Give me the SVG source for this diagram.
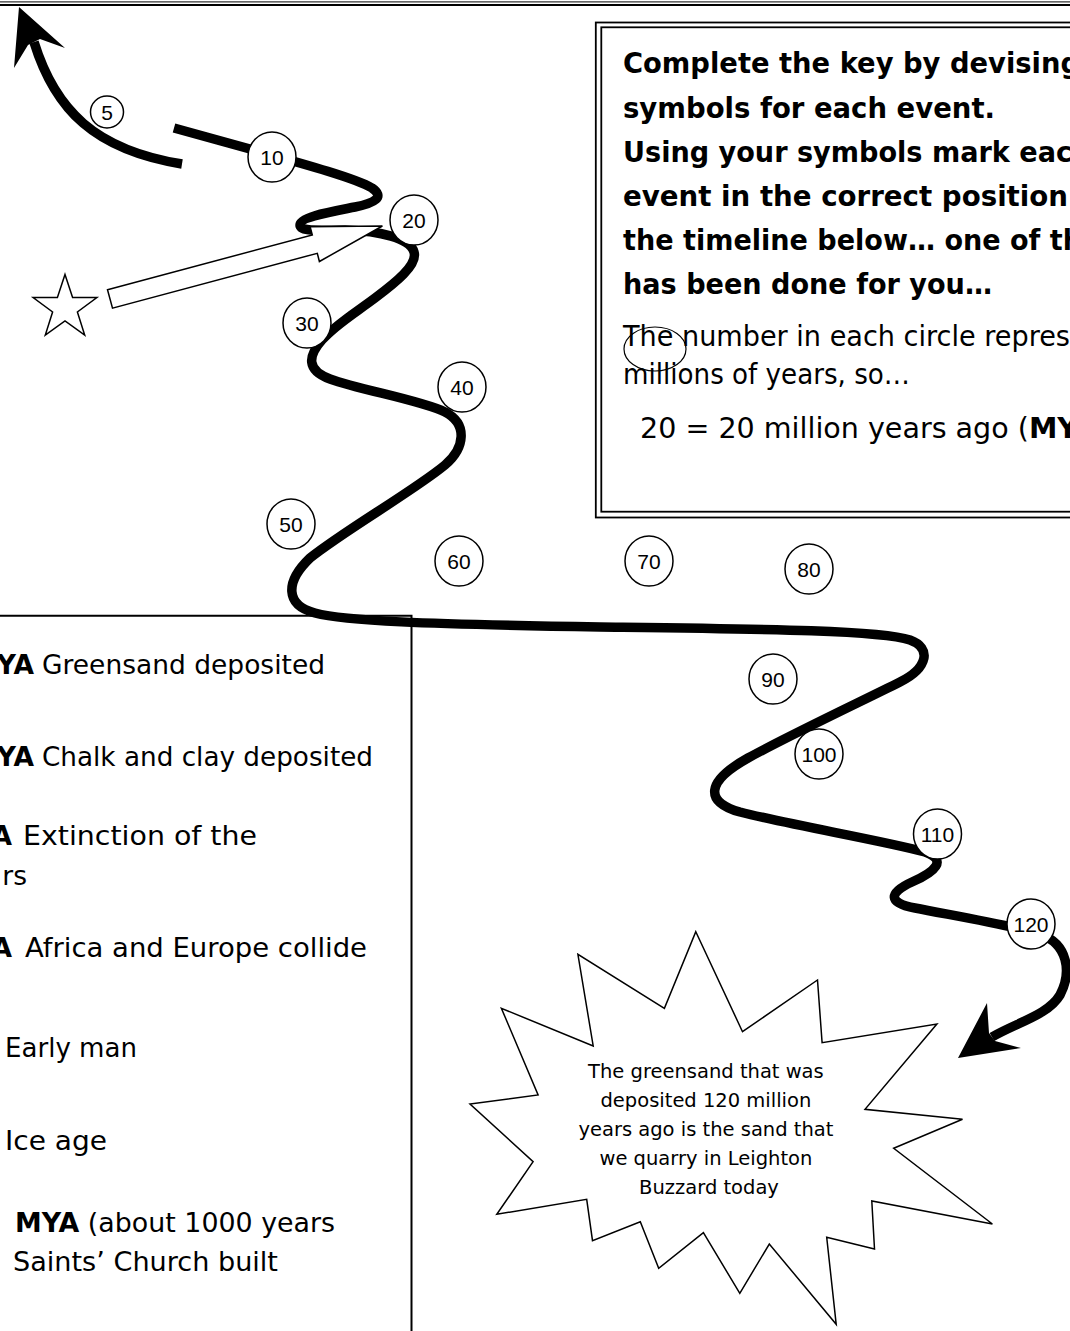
<svg xmlns="http://www.w3.org/2000/svg" width="1070" height="1331" viewBox="0 0 1070 1331">
<style>
.t{font-family:"DejaVu Sans","Noto Sans",sans-serif;fill:#000}
.b{font-weight:bold}
.num{font-family:"Liberation Sans",Arial,sans-serif;font-size:21px;text-anchor:middle;fill:#000}
.circ{fill:#fff;stroke:#000;stroke-width:1.5}
.line{fill:none;stroke:#000;stroke-width:9.5;stroke-linecap:butt;stroke-linejoin:round}
.outline{fill:#fff;stroke:#000;stroke-width:1.5;stroke-linejoin:miter}
</style>
<rect x="0" y="0" width="1070" height="1331" fill="#fff"/>
<g id="page-border">
<line x1="0" y1="1.8" x2="1070" y2="1.8" stroke="#333" stroke-width="1.2"/>
<line x1="0" y1="5" x2="1070" y2="5" stroke="#000" stroke-width="2.2"/>
</g>
<g id="instruction-box">
<rect x="595.8" y="22.5" width="500" height="495" fill="none" stroke="#000" stroke-width="1.8"/>
<rect x="601.3" y="27.3" width="500" height="484.4" fill="none" stroke="#000" stroke-width="1.8"/>
<text class="t b" x="623" y="73" font-size="28.5" textLength="457" lengthAdjust="spacingAndGlyphs">Complete the key by devising</text>
<text class="t b" x="623" y="118" font-size="28.5" textLength="372" lengthAdjust="spacingAndGlyphs">symbols for each event.</text>
<text class="t b" x="623" y="162" font-size="28.5" textLength="449" lengthAdjust="spacingAndGlyphs">Using your symbols mark eac</text>
<text class="t b" x="623" y="206" font-size="28.5" textLength="445" lengthAdjust="spacingAndGlyphs">event in the correct position</text>
<text class="t b" x="623" y="250" font-size="28.5" textLength="459" lengthAdjust="spacingAndGlyphs">the timeline below… one of th</text>
<text class="t b" x="623" y="294" font-size="28.5" textLength="369" lengthAdjust="spacingAndGlyphs">has been done for you…</text>
<text class="t" x="623" y="346" font-size="27.5" textLength="447" lengthAdjust="spacingAndGlyphs">The number in each circle repres</text>
<text class="t" x="623" y="384" font-size="27.5" textLength="287" lengthAdjust="spacingAndGlyphs">millions of years, so…</text>
<text class="t" x="640" y="438" font-size="27.5" textLength="438" lengthAdjust="spacingAndGlyphs">20  = 20 million years ago (<tspan class="b">MY</tspan></text>
<ellipse cx="655" cy="349" rx="31" ry="22" fill="none" stroke="#000" stroke-width="1.2"/>
</g>
<g id="key-box">
<path d="M0 615.8 H411.5 V1331" fill="none" stroke="#000" stroke-width="2"/>
<text class="t b" x="34" y="674" font-size="26.5" text-anchor="end">YA</text>
<text class="t" x="42" y="674" font-size="26.5" textLength="283" lengthAdjust="spacingAndGlyphs">Greensand deposited</text>
<text class="t b" x="34" y="766" font-size="26.5" text-anchor="end">YA</text>
<text class="t" x="42" y="766" font-size="26.5" textLength="331" lengthAdjust="spacingAndGlyphs">Chalk and clay deposited</text>
<text class="t b" x="12" y="845" font-size="26.5" text-anchor="end">A</text>
<text class="t" x="23" y="845" font-size="26.5" textLength="234" lengthAdjust="spacingAndGlyphs">Extinction of the</text>
<text class="t" x="27" y="885" font-size="26.5" text-anchor="end">rs</text>
<text class="t b" x="12" y="957" font-size="26.5" text-anchor="end">A</text>
<text class="t" x="25" y="957" font-size="26.5" textLength="342" lengthAdjust="spacingAndGlyphs">Africa and Europe collide</text>
<text class="t" x="5" y="1057" font-size="26.5" textLength="132" lengthAdjust="spacingAndGlyphs">Early man</text>
<text class="t" x="5" y="1150" font-size="26.5" textLength="102" lengthAdjust="spacingAndGlyphs">Ice age</text>
<text class="t" x="15" y="1232" font-size="26.5" textLength="320" lengthAdjust="spacingAndGlyphs"><tspan class="b">MYA</tspan> (about 1000 years</text>
<text class="t" x="13" y="1271" font-size="26.5" textLength="265" lengthAdjust="spacingAndGlyphs">Saints’ Church built</text>
</g>
<g id="connectors">
<path class="line" d="M34 42 C55 110, 95 150, 182 164"/>
<polygon points="19,7 65,48 40,39 28,45 14,68" fill="#000"/>
<path class="line" d="M174 128 L250 149 C300 163, 355 178, 372 188 C385 197, 375 203, 355 207 C330 212, 300 217, 300 225 C300 232, 320 230, 345 230 C380 231, 410 238, 414 252 C418 265, 395 283, 375 298 C355 313, 335 325, 322 340 C308 356, 306 370, 330 379 C360 390, 420 400, 445 412 C468 424, 465 448, 445 465 C415 490, 345 530, 310 558 C285 582, 285 605, 315 613 C345 621, 420 624, 600 627 C760 629, 880 630, 910 640 C932 648, 928 668, 900 682 C860 702, 790 735, 748 758 C705 782, 705 802, 740 812 C790 825, 880 840, 925 852 C948 860, 935 872, 912 882 C888 893, 888 903, 915 908 C950 915, 1010 925, 1040 934 C1068 944, 1072 972, 1060 995 C1048 1015, 1018 1022, 992 1037"/>
<polygon points="958,1058 987,1003 989,1033 995,1041 1021,1048" fill="#000"/>
</g>
<g id="marker-5"><ellipse class="circ" cx="107" cy="112" rx="16.5" ry="16"/><text class="num" x="107" y="120">5</text></g>
<g id="marker-10"><ellipse class="circ" cx="272" cy="157" rx="24" ry="25"/><text class="num" x="272" y="165">10</text></g>
<g id="marker-20"><ellipse class="circ" cx="414" cy="220" rx="24" ry="25"/><text class="num" x="414" y="228">20</text></g>
<g id="marker-30"><ellipse class="circ" cx="307" cy="323" rx="24" ry="25"/><text class="num" x="307" y="331">30</text></g>
<g id="marker-40"><ellipse class="circ" cx="462" cy="387" rx="24" ry="25"/><text class="num" x="462" y="395">40</text></g>
<g id="marker-50"><ellipse class="circ" cx="291" cy="524" rx="24" ry="25"/><text class="num" x="291" y="532">50</text></g>
<g id="marker-60"><ellipse class="circ" cx="459" cy="561" rx="24" ry="25"/><text class="num" x="459" y="569">60</text></g>
<g id="marker-70"><ellipse class="circ" cx="649" cy="561" rx="24" ry="25"/><text class="num" x="649" y="569">70</text></g>
<g id="marker-80"><ellipse class="circ" cx="809" cy="569" rx="24" ry="25"/><text class="num" x="809" y="577">80</text></g>
<g id="marker-90"><ellipse class="circ" cx="773" cy="679" rx="24" ry="25"/><text class="num" x="773" y="687">90</text></g>
<g id="marker-100"><ellipse class="circ" cx="819" cy="754" rx="24" ry="25"/><text class="num" x="819" y="762">100</text></g>
<g id="marker-110"><ellipse class="circ" cx="937.5" cy="834" rx="24" ry="25"/><text class="num" x="937.5" y="842">110</text></g>
<g id="marker-120"><ellipse class="circ" cx="1031" cy="924" rx="24" ry="25"/><text class="num" x="1031" y="932">120</text></g>
<g id="star">
<polygon class="outline" points="65,274.5 72.6,297.5 96.9,297.6 77.4,312 84.7,335.1 65,321 45.3,335.1 52.6,312 33.1,297.6 57.4,297.5"/>
</g>
<g id="star-arrow">
<polygon class="outline" points="107.5,289.8 312.3,234.9 310.1,226.7 382.4,226 319.4,261.5 317.3,253.3 112.5,308.2"/>
</g>
<g id="callout">
<polygon class="outline" points="695.8,931.7 742.5,1031.7 817.5,980 822.1,1042.7 936.9,1024 865,1109.3 962.5,1119.3 893.7,1148.3 992.4,1224 871.8,1201 874.5,1249 826.7,1237.3 836.2,1324.3 769.3,1244 739.8,1293.3 703.4,1232.7 658.7,1268.3 640.3,1221.7 592.5,1240.7 586.7,1199.3 496.8,1214.3 533.1,1161.7 470,1104 538.1,1095 501.4,1008.3 593.2,1046 577.9,954.3 664.4,1008.3"/>
<text class="t" font-size="19.5" text-anchor="middle">
<tspan x="709" y="1078">The greensand that was</tspan>
<tspan x="709" y="1107">deposited 120 million</tspan>
<tspan x="709" y="1136">years ago is the sand that</tspan>
<tspan x="709" y="1165">we quarry in Leighton</tspan>
<tspan x="709" y="1194">Buzzard today</tspan>
</text>
</g>
</svg>
